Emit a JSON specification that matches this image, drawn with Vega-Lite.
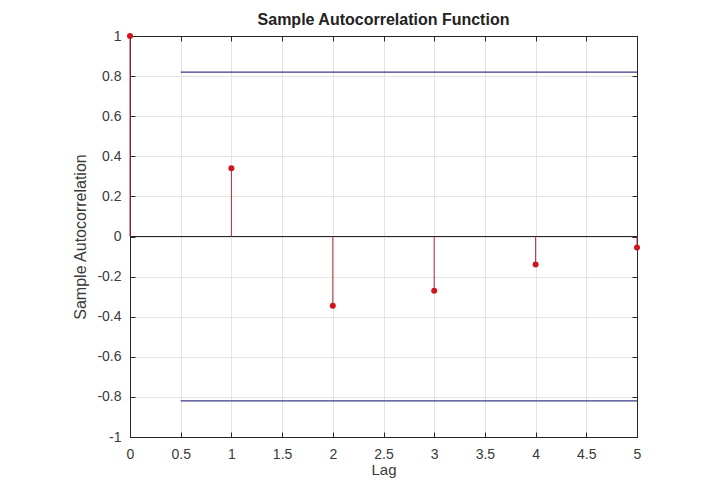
{
  "$schema": "https://vega.github.io/schema/vega-lite/v6.json",
  "width": 507,
  "height": 401,
  "autosize": {"type": "none"},
  "padding": {"left": 130, "top": 36, "right": 84, "bottom": 43},
  "background": "white",
  "title": {"text": "Sample Autocorrelation Function", "font": "Liberation Sans", "fontSize": 16, "fontWeight": "bold", "color": "#222222", "offset": 1},
  "config": {
    "font": "Liberation Sans",
    "view": {"stroke": "#262626", "strokeWidth": 1},
    "axis": {"labelFont": "Liberation Sans", "titleFont": "Liberation Sans", "labelFontSize": 14, "titleFontSize": 16, "labelColor": "#3a3a3a", "titleColor": "#3a3a3a", "titleFontWeight": "normal", "gridColor": "#e3e3e3", "domainColor": "#262626", "tickColor": "#262626", "tickSize": -5, "domain": true,
      "labelExpr": "replace(datum.label, '−', '-')"}
  },
  "resolve": {"axis": {"x": "independent", "y": "independent"}},
  "datasets": {
    "acf": [
      {"lag": 0, "acf": 1.0, "base": 0},
      {"lag": 1, "acf": 0.34, "base": 0},
      {"lag": 2, "acf": -0.345, "base": 0},
      {"lag": 3, "acf": -0.27, "base": 0},
      {"lag": 4, "acf": -0.14, "base": 0},
      {"lag": 5, "acf": -0.055, "base": 0}
    ],
    "bounds": [
      {"x1": 0.5, "x2": 5, "b": 0.82},
      {"x1": 0.5, "x2": 5, "b": -0.82}
    ],
    "zero": [
      {"x1": 0, "x2": 5, "z": 0}
    ]
  },
  "layer": [
    {
      "data": {"name": "zero"},
      "mark": {"type": "rule", "color": "#262626", "strokeWidth": 1.2},
      "encoding": {
        "x": {"field": "x1", "type": "quantitative", "scale": {"domain": [0, 5], "nice": false, "zero": false},
              "axis": {"title": "Lag", "values": [0, 0.5, 1, 1.5, 2, 2.5, 3, 3.5, 4, 4.5, 5], "format": "~g", "labelPadding": 15, "titlePadding": 1, "titleFontSize": 15, "labelFlush": false}},
        "x2": {"field": "x2"},
        "y": {"field": "z", "type": "quantitative", "scale": {"domain": [-1, 1], "nice": false},
              "axis": {"title": "Sample Autocorrelation", "values": [-1, -0.8, -0.6, -0.4, -0.2, 0, 0.2, 0.4, 0.6, 0.8, 1], "format": "~g", "labelPadding": 14, "titlePadding": 8, "labelFlush": false}}
      }
    },
    {
      "data": {"name": "bounds"},
      "mark": {"type": "rule", "color": "#3a3a86", "strokeWidth": 1.4},
      "encoding": {
        "x": {"field": "x1", "type": "quantitative",
              "axis": {"orient": "top", "title": null, "labels": false, "grid": false, "values": [0, 0.5, 1, 1.5, 2, 2.5, 3, 3.5, 4, 4.5, 5]}},
        "x2": {"field": "x2"},
        "y": {"field": "b", "type": "quantitative",
              "axis": {"orient": "right", "title": null, "labels": false, "grid": false, "values": [-1, -0.8, -0.6, -0.4, -0.2, 0, 0.2, 0.4, 0.6, 0.8, 1]}}
      }
    },
    {
      "data": {"name": "acf"},
      "mark": {"type": "rule", "color": "#b0303a", "strokeWidth": 1},
      "encoding": {
        "x": {"field": "lag", "type": "quantitative", "axis": null},
        "y": {"field": "base", "type": "quantitative", "axis": null},
        "y2": {"field": "acf"}
      }
    },
    {
      "data": {"name": "acf"},
      "mark": {"type": "point", "filled": true, "color": "#d0141e", "size": 36, "opacity": 1},
      "encoding": {
        "x": {"field": "lag", "type": "quantitative", "axis": null},
        "y": {"field": "acf", "type": "quantitative", "axis": null}
      }
    }
  ]
}
